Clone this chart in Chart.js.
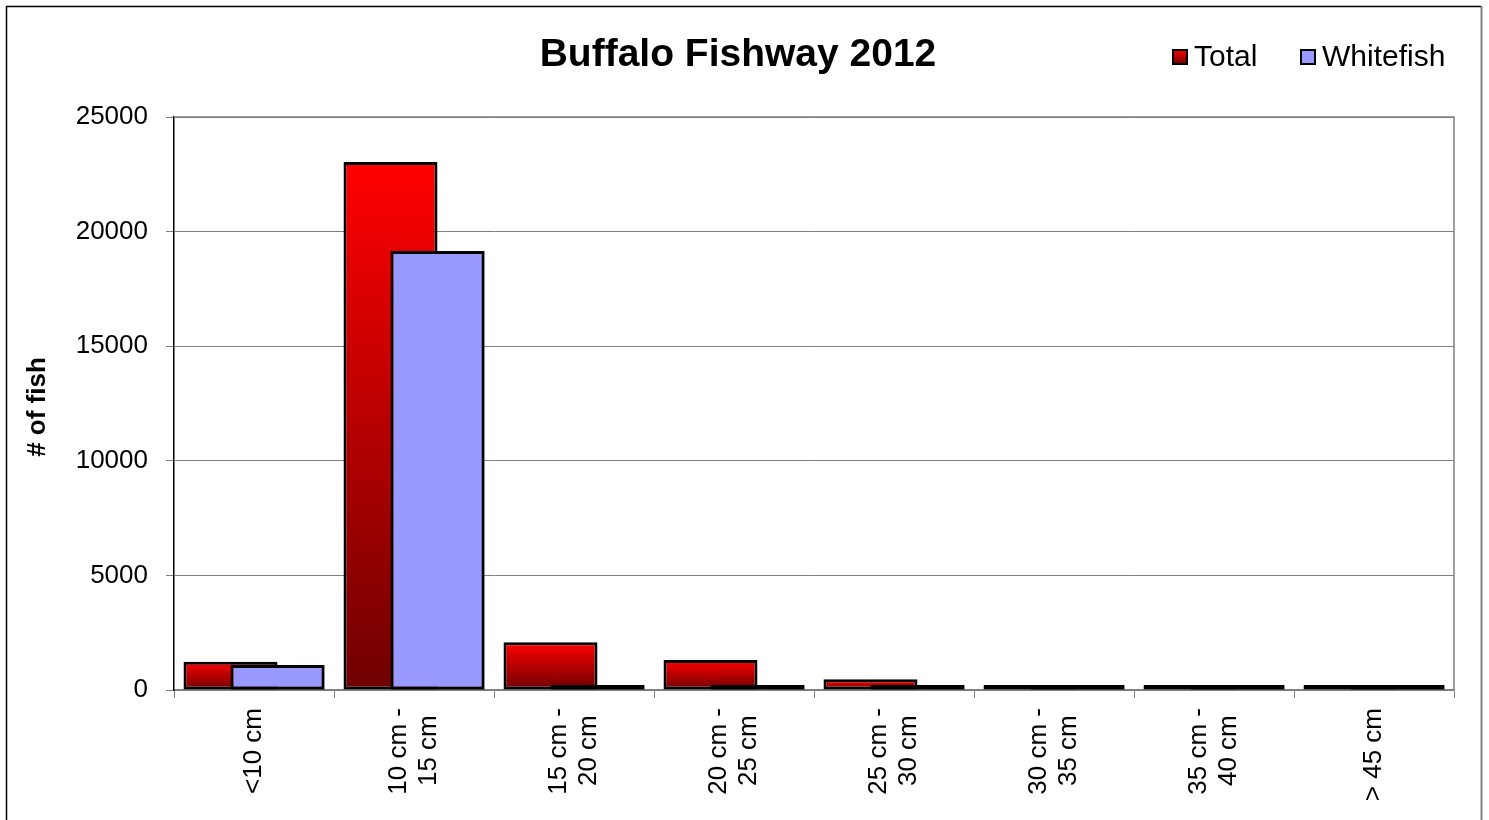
<!DOCTYPE html>
<html lang="en">
<head>
  <meta charset="UTF-8" />
  <title>Buffalo Fishway 2012</title>
  <script src="https://cdn.jsdelivr.net/npm/chart.js"></script>
  <style>
    body { margin: 0; background: #fff; }
    #wrap { width: 1489px; height: 820px; }
  </style>
</head>
<body>
  <div id="wrap"><canvas id="chart" width="1489" height="820"></canvas></div>

  <script>
    // empty first line + half line height keeps single labels centred under the label offset
    const sizeClasses = [['', '<10 cm'], ['10 cm -', '15 cm '], ['15 cm -', '20 cm '], ['20 cm -', '25 cm '],
                         ['25 cm -', '30 cm '], ['30 cm -', '35 cm '], ['35 cm -', '40 cm '], ['', '> 45 cm']];
    const totalFish = [1235, 23040, 2080, 1310, 470, 120, 120, 200];
    const whitefish = [1090, 19150, 140, 30, 10, 5, 5, 40];
    const yTicks = [0, 5000, 10000, 15000, 20000, 25000];

    const FONT = "'Liberation Sans', Arial, sans-serif";

    // red bar: bright on top, dark at the base, per bar
    function redGradient(ctx) {
      const chart = ctx.chart;
      if (!chart.chartArea || ctx.type !== 'data') return '#c00000';
      const y = chart.scales.y;
      const top = y.getPixelForValue(ctx.parsed.y);
      const bottom = y.getPixelForValue(0);
      if (!isFinite(top) || bottom - top < 1) return '#c00000';
      const g = chart.ctx.createLinearGradient(0, top, 0, bottom);
      g.addColorStop(0, '#ff0000');
      g.addColorStop(1, '#6e0000');
      return g;
    }

    const decor = {
      id: 'decor',
      afterDatasetsDraw(chart) {
        // whitefish sits in front of the total bars
        chart.getDatasetMeta(1).controller.draw();
      },
      afterDraw(chart) {
        const c = chart.ctx;
        const a = chart.chartArea;
        c.save();
        // plot area frame (top and right)
        c.strokeStyle = '#808080';
        c.lineWidth = 1.5;
        c.beginPath();
        c.moveTo(a.left, a.top);
        c.lineTo(a.right, a.top);
        c.lineTo(a.right, a.bottom);
        c.stroke();

        // outer border
        c.strokeStyle = '#000';
        c.lineWidth = 1.5;
        c.beginPath();
        c.moveTo(6.5, 830);
        c.lineTo(6.5, 6.5);
        c.lineTo(1481.5, 6.5);
        c.stroke();
        c.strokeStyle = '#808080';
        c.lineWidth = 2;
        c.beginPath();
        c.moveTo(1481.5, 6.5);
        c.lineTo(1481.5, 830);
        c.stroke();

        // title
        c.fillStyle = '#000';
        c.font = 'bold 39px ' + FONT;
        c.textAlign = 'center';
        c.textBaseline = 'middle';
        c.fillText('Buffalo Fishway 2012', 738, 55);

        // y title
        c.save();
        c.translate(38, 407);
        c.rotate(-Math.PI / 2);
        c.font = 'bold 26px ' + FONT;
        c.fillText('# of fish', 0, 0);
        c.restore();

        // legend
        c.font = '30px ' + FONT;
        c.textAlign = 'left';
        const items = [
          { label: 'Total', x: 1173, fill: null },
          { label: 'Whitefish', x: 1301, fill: '#9999ff' }
        ];
        items.forEach(it => {
          let fill = it.fill;
          if (!fill) {
            fill = c.createLinearGradient(0, 50, 0, 64);
            fill.addColorStop(0, '#ff0000');
            fill.addColorStop(1, '#6e0000');
          }
          c.fillStyle = fill;
          c.fillRect(it.x, 50, 14, 14);
          c.strokeStyle = '#000';
          c.lineWidth = 2;
          c.strokeRect(it.x, 50, 14, 14);
          c.fillStyle = '#000';
          c.fillText(it.label, it.x + 21, 58);
        });
        c.restore();
      }
    };

    new Chart(document.getElementById('chart'), {
      type: 'bar',
      data: {
        labels: sizeClasses,
        datasets: [
          {
            label: 'Total',
            data: totalFish,
            backgroundColor: redGradient,
            borderColor: '#000',
            borderWidth: 3,
            borderSkipped: false,
            minBarLength: 5
          },
          {
            label: 'Whitefish',
            data: whitefish,
            backgroundColor: '#9999ff',
            borderColor: '#000',
            borderWidth: 3,
            borderSkipped: false,
            minBarLength: 5
          }
        ]
      },
      options: {
        responsive: false,
        animation: false,
        categoryPercentage: 0.5875,
        barPercentage: 2.0,
        layout: { padding: { top: 117, right: 35, left: 0, bottom: 0 } },
        plugins: {
          legend: { display: false },
          title: { display: false },
          tooltip: { enabled: false }
        },
        scales: {
          x: {
            afterFit: s => { s.height = 130; },
            grid: {
              offset: true,
              drawOnChartArea: false,
              drawTicks: true,
              tickLength: 8,
              color: '#808080'
            },
            border: { color: '#808080', width: 1.5 },
            ticks: {
              minRotation: 90,
              maxRotation: 90,
              autoSkip: false,
              padding: 10,
              labelOffset: -15,
              color: '#000',
              font: ctx => ({
                family: FONT,
                size: 26,
                lineHeight: sizeClasses[ctx.index] && sizeClasses[ctx.index][0] === '' ? 0.575 : 1.15
              })
            }
          },
          y: {
            min: 0,
            max: 25000,
            afterFit: s => { s.width = 174; },
            afterBuildTicks: s => { s.ticks = yTicks.map(v => ({ value: v })); },
            grid: { color: '#808080', lineWidth: 1, tickLength: 8 },
            border: { color: '#000', width: 1.5 },
            ticks: {
              padding: 18,
              color: '#000',
              callback: v => String(v),
              font: { family: FONT, size: 26 }
            }
          }
        }
      },
      plugins: [decor]
    });
  </script>
</body>
</html>
